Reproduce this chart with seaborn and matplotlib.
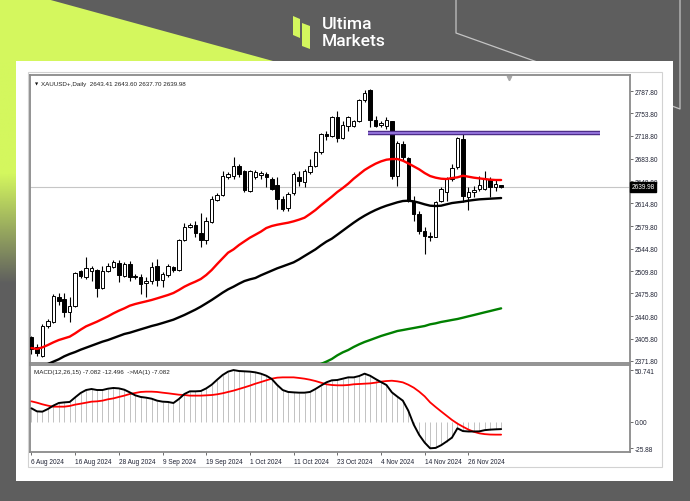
import numpy as np
import pandas as pd
import matplotlib
matplotlib.use("Agg")
import matplotlib.pyplot as plt
import matplotlib.transforms as mtransforms
from matplotlib.patches import Polygon, Rectangle
import seaborn as sns

# ---------------- data ----------------
dates = pd.bdate_range("2024-08-06", "2024-12-04")

opens = [2408.2, 2393.9, 2380.0, 2425.2, 2431.4, 2469.9, 2467.3, 2446.8, 2457.0, 2510.0,
         2500.7, 2511.0, 2512.5, 2484.3, 2511.0, 2517.1, 2522.3, 2503.3, 2521.2, 2503.3,
         2500.7, 2491.4, 2495.6, 2517.6, 2496.6, 2504.8, 2517.1, 2512.0, 2558.2, 2577.7,
         2581.8, 2569.5, 2558.2, 2585.4, 2619.9, 2628.1, 2655.8, 2657.3, 2672.8, 2665.1,
         2633.2, 2654.8, 2658.4, 2659.9, 2652.2, 2643.5, 2621.4, 2607.5, 2630.1, 2655.8,
         2647.1, 2662.5, 2672.8, 2693.3, 2721.5, 2719.0, 2747.2, 2715.4, 2734.4, 2734.4,
         2742.1, 2773.9, 2789.3, 2743.1, 2735.4, 2734.4, 2742.1, 2657.3, 2706.1, 2684.6,
         2618.8, 2598.3, 2572.6, 2564.9, 2563.4, 2617.8, 2631.7, 2652.2, 2670.2, 2713.8,
         2625.0, 2632.7, 2636.8, 2636.8, 2652.2, 2639.4, 2643.41]
highs = [2410.8, 2398.0, 2428.8, 2436.5, 2475.0, 2476.1, 2476.1, 2469.9, 2508.4, 2512.0,
         2531.5, 2518.7, 2513.5, 2518.7, 2522.3, 2527.4, 2527.4, 2523.8, 2526.4, 2505.8,
         2505.8, 2500.7, 2523.8, 2528.9, 2508.4, 2521.2, 2518.7, 2559.8, 2583.9, 2583.9,
         2588.0, 2599.3, 2593.1, 2626.5, 2630.1, 2664.0, 2662.5, 2685.6, 2675.3, 2666.1,
         2666.1, 2666.1, 2665.1, 2662.5, 2654.8, 2654.8, 2626.5, 2631.7, 2662.5, 2665.1,
         2667.6, 2683.0, 2694.8, 2722.6, 2726.7, 2749.8, 2757.5, 2742.1, 2749.8, 2743.1,
         2775.5, 2789.3, 2790.4, 2749.8, 2742.1, 2748.3, 2742.1, 2711.3, 2710.2, 2685.6,
         2626.5, 2603.4, 2577.7, 2570.0, 2618.8, 2639.4, 2654.8, 2675.3, 2716.4, 2721.5,
         2639.4, 2641.9, 2657.3, 2665.1, 2654.8, 2652.2, 2643.60]
lows = [2382.6, 2380.0, 2378.5, 2422.6, 2429.8, 2458.6, 2439.1, 2431.4, 2455.5, 2499.7,
        2498.1, 2495.6, 2469.9, 2482.7, 2508.4, 2515.1, 2493.0, 2500.7, 2495.6, 2498.1,
        2475.0, 2470.9, 2490.4, 2487.9, 2486.3, 2501.7, 2508.4, 2511.0, 2557.2, 2576.2,
        2562.3, 2548.0, 2552.1, 2583.9, 2617.8, 2626.5, 2652.2, 2652.2, 2654.8, 2631.7,
        2631.7, 2652.2, 2652.2, 2639.4, 2635.3, 2606.0, 2603.4, 2603.4, 2628.1, 2641.9,
        2639.4, 2659.9, 2670.2, 2690.7, 2712.3, 2716.4, 2708.7, 2713.8, 2726.7, 2731.8,
        2739.5, 2770.3, 2731.8, 2731.8, 2732.8, 2729.2, 2652.2, 2641.9, 2680.5, 2616.3,
        2588.0, 2567.5, 2536.7, 2557.2, 2562.3, 2616.3, 2618.8, 2649.6, 2667.6, 2616.3,
        2604.4, 2624.0, 2634.2, 2635.3, 2624.0, 2634.2, 2637.70]
closes = [2390.3, 2383.6, 2426.2, 2432.9, 2472.5, 2464.7, 2446.8, 2457.0, 2506.9, 2503.3,
          2515.1, 2515.1, 2484.3, 2511.0, 2518.7, 2524.8, 2504.8, 2521.2, 2500.7, 2500.7,
          2490.4, 2495.6, 2517.1, 2496.6, 2505.8, 2517.6, 2512.0, 2558.7, 2578.8, 2581.3,
          2568.5, 2558.2, 2588.0, 2621.4, 2627.6, 2656.8, 2659.9, 2672.8, 2659.9, 2635.3,
          2664.0, 2662.5, 2660.9, 2654.8, 2636.8, 2621.4, 2606.0, 2629.1, 2659.9, 2649.6,
          2665.1, 2672.8, 2693.3, 2721.5, 2719.0, 2748.3, 2715.4, 2735.4, 2747.2, 2741.1,
          2773.9, 2784.2, 2743.1, 2734.4, 2738.0, 2743.1, 2657.3, 2707.2, 2685.6, 2618.8,
          2598.3, 2572.6, 2564.9, 2562.3, 2616.3, 2636.8, 2652.2, 2669.2, 2715.4, 2626.5,
          2632.7, 2635.3, 2643.5, 2652.2, 2639.4, 2644.5, 2639.98]

# red moving average (every bar)
ma_fast = [2391.8, 2390.3, 2392.8, 2396.4, 2400.5, 2404.1, 2406.7, 2409.3, 2414.4, 2420.1,
           2425.2, 2428.8, 2432.4, 2436.5, 2440.6, 2445.2, 2449.3, 2452.9, 2457.0, 2459.6,
           2461.7, 2463.7, 2465.8, 2468.3, 2470.9, 2473.5, 2476.6, 2481.2, 2486.3, 2490.4,
           2494.0, 2498.1, 2504.3, 2512.0, 2521.2, 2530.0, 2538.7, 2543.8, 2550.5, 2556.2,
           2561.8, 2566.4, 2571.1, 2576.7, 2579.8, 2581.8, 2583.4, 2584.9, 2587.0, 2589.6,
           2592.6, 2598.3, 2604.4, 2611.6, 2618.3, 2625.0, 2632.2, 2638.3, 2645.0, 2652.7,
           2659.4, 2666.1, 2671.2, 2675.8, 2679.4, 2682.0, 2683.0, 2683.0, 2680.5, 2676.3,
           2671.7, 2667.1, 2661.4, 2656.8, 2654.3, 2652.7, 2652.2, 2653.7, 2654.8, 2657.3,
           2655.8, 2654.3, 2653.2, 2652.2, 2651.2, 2650.7, 2650.7]
# black moving average, starts at bar 3
ma_slow_start = 3
ma_slow = [2367.2, 2370.8, 2374.4, 2379.0, 2382.6, 2385.6, 2389.2, 2392.3, 2395.4, 2398.5,
           2401.6, 2404.1, 2407.2, 2410.3, 2413.4, 2415.4, 2418.0, 2420.6, 2423.1, 2425.7,
           2427.8, 2430.3, 2432.9, 2435.5, 2439.1, 2442.7, 2446.8, 2450.9, 2455.5, 2460.6,
           2465.8, 2471.4, 2477.1, 2482.2, 2486.3, 2490.9, 2495.0, 2497.6, 2499.7, 2503.8,
           2507.4, 2511.0, 2514.6, 2517.6, 2520.7, 2523.8, 2528.4, 2533.6, 2538.7, 2543.8,
           2550.0, 2555.7, 2560.3, 2566.4, 2572.6, 2578.8, 2584.9, 2590.6, 2595.7, 2600.3,
           2604.4, 2608.0, 2611.1, 2613.7, 2616.3, 2618.3, 2618.8, 2617.8, 2615.7, 2613.2,
           2611.1, 2610.6, 2611.1, 2613.2, 2615.2, 2616.3, 2617.3, 2618.8, 2619.9, 2620.9,
           2621.4, 2621.9, 2622.4, 2622.9]
# green moving average, starts at bar 53
ma_long_start = 53
ma_long = [2367.2, 2370.8, 2374.9, 2380.5, 2385.1, 2388.7, 2393.4, 2397.5, 2401.1, 2404.1,
           2407.2, 2410.3, 2412.9, 2415.4, 2418.0, 2419.5, 2421.1, 2422.6, 2424.2, 2425.7,
           2428.3, 2429.8, 2431.9, 2433.4, 2435.0, 2436.5, 2438.5, 2440.6, 2442.6, 2444.7,
           2446.8, 2448.8, 2450.9, 2452.9]

macd_main = [13.3, 10.3, 10.0, 12.6, 15.9, 18.5, 19.1, 19.5, 24.0, 28.3,
             31.2, 32.2, 31.2, 31.2, 32.5, 33.2, 32.8, 31.5, 28.9, 26.0,
             24.4, 23.7, 22.7, 20.8, 19.8, 19.5, 18.5, 22.4, 27.3, 29.9,
             29.9, 30.2, 32.8, 36.4, 41.3, 45.9, 49.2, 50.741, 49.8, 49.5,
             49.2, 48.5, 47.2, 45.2, 42.0, 36.1, 31.2, 29.3, 28.9, 28.6,
             28.6, 29.3, 32.2, 35.5, 38.7, 40.7, 41.0, 42.3, 43.6, 43.6,
             44.9, 47.2, 45.2, 42.0, 39.0, 36.1, 28.9, 24.7, 20.8, 11.0,
             -2.7, -12.8, -20.3, -25.88, -25.5, -22.9, -19.3, -15.4, -6.3, -9.0,
             -9.4, -9.4, -9.3, -8.1, -7.6, -7.3, -7.082]
macd_signal = [20.1, 18.8, 17.2, 15.9, 14.9, 14.9, 14.9, 15.6, 16.9, 17.8,
               18.8, 19.8, 20.1, 20.8, 22.1, 23.0, 24.4, 25.7, 27.3, 28.3,
               29.3, 29.6, 29.6, 29.3, 28.6, 28.0, 27.3, 26.6, 26.3, 25.7,
               25.7, 25.7, 26.0, 26.3, 27.0, 28.0, 29.3, 30.6, 32.2, 33.8,
               35.5, 37.4, 39.0, 40.7, 42.3, 43.3, 43.6, 43.6, 43.6, 43.0,
               42.3, 41.3, 40.0, 38.4, 36.8, 36.1, 35.8, 35.8, 36.1, 36.8,
               37.1, 37.4, 37.7, 38.4, 39.4, 40.0, 40.3, 39.7, 38.7, 36.4,
               33.5, 29.6, 25.0, 19.1, 14.6, 10.3, 6.1, 1.9, -1.7, -4.7,
               -7.5, -9.7, -11.2, -12.0, -12.4, -12.5, -12.496]

resistance_level = 2723.0
resistance_span = (61.7, 104.1)
last_price = 2639.98

price_ticks = [2787.80, 2753.80, 2718.80, 2683.80, 2648.80, 2614.80, 2579.80,
               2544.80, 2509.80, 2475.80, 2440.80, 2405.80, 2371.80]
macd_ticks = [50.741, 0.0, -25.88]
macd_tick_labels = ["50.741", "0.00", "-25.88"]
date_step = 8

symbol_title = "XAUUSD+,Daily  2643.41 2643.60 2637.70 2639.98"
macd_title = "MACD(12,26,15) -7.082 -12.496  ->MA(1) -7.082"
brand_lines = ["Ultima", "Markets"]

# ---------------- style ----------------
sns.set_theme(style="white")
plt.rcParams["font.family"] = ["Liberation Sans", "DejaVu Sans"]

W, H = 690, 502
LIME = "#d4f75e"
DARK = "#5e5e5e"
TXT = 4.7
fig = plt.figure(figsize=(W / 100, H / 100), dpi=100)
fig.patch.set_facecolor(DARK)


def frac(l, t, r, b):
    return [l / W, 1 - b / H, (r - l) / W, (b - t) / H]


# ---------------- branded backdrop ----------------
bg = fig.add_axes([0, 0, 1, 1], zorder=0)
bg.set_xlim(0, W)
bg.set_ylim(H, 0)
bg.axis("off")
bg.add_patch(Polygon([(0, 0), (47, 0), (273, 62), (0, 62)], closed=True,
                     facecolor=LIME, edgecolor="none"))
ys = np.linspace(62, 290, 229)
alpha = np.clip((285 - ys) / (285 - 175), 0, 1)
strip = np.zeros((len(ys), 1, 4))
strip[..., :3] = matplotlib.colors.to_rgb(LIME)
strip[:, 0, 3] = alpha
bg.imshow(strip, extent=(0, 16, 290, 62), aspect="auto", origin="upper",
          interpolation="bilinear", zorder=1)
bg.plot([456, 456, 540], [0, 34, 64], color="#c4c4c4", lw=0.9, zorder=1)
bg.plot([680, 680, 672], [0, 110, 107], color="#c4c4c4", lw=0.9, zorder=1)
bg.set_xlim(0, W)
bg.set_ylim(H, 0)

# logo mark and wordmark
bg.add_patch(Polygon([(293, 17), (300, 20), (300, 39), (293, 36)], closed=True,
                     facecolor=LIME, edgecolor="none"))
bg.add_patch(Polygon([(302, 24), (310, 27), (310, 50), (302, 47)], closed=True,
                     facecolor=LIME, edgecolor="none"))
bg.text(322, 24.5, brand_lines[0], color="white", fontsize=12.5, family="Roboto",
        fontweight="medium", ha="left", va="center")
bg.text(322, 41.5, brand_lines[1], color="white", fontsize=12.5, family="Roboto",
        fontweight="medium", ha="left", va="center")

# white card and terminal frame
bg.add_patch(Rectangle((16, 62), 657, 420, facecolor="white", edgecolor="none", zorder=2))
bg.add_patch(Rectangle((27.5, 72.5), 634.5, 395.5, fill=False, edgecolor="#d2d2d2",
                       lw=0.8, zorder=3))

# ---------------- price window ----------------
ax = fig.add_axes(frac(30, 76, 630, 364), zorder=2)
ax2 = fig.add_axes(frac(30, 366, 630, 453), zorder=2)

n = len(dates)
x = np.arange(n)
o = np.array(opens)
h = np.array(highs)
lo = np.array(lows)
c = np.array(closes)
bull = c >= o
bottoms = np.minimum(o, c)
heights = np.maximum(np.abs(c - o), 0.9)

ax.axhline(last_price, color="#c6c6c6", lw=0.8, zorder=1)
ax.vlines(x, lo, h, color="black", lw=0.8, zorder=2)
ax.bar(x[bull], heights[bull], bottom=bottoms[bull], width=0.64, color="white",
       edgecolor="black", linewidth=0.7, zorder=3)
ax.bar(x[~bull], heights[~bull], bottom=bottoms[~bull], width=0.64, color="black",
       edgecolor="black", linewidth=0.7, zorder=3)

sns.lineplot(x=x, y=ma_fast, ax=ax, color="#ff0000", lw=1.7, zorder=4)
sns.lineplot(x=x[ma_slow_start:], y=ma_slow, ax=ax, color="black", lw=1.7, zorder=4)
sns.lineplot(x=x[ma_long_start:], y=ma_long, ax=ax, color="#008000", lw=1.7, zorder=4)

ax.hlines(resistance_level, *resistance_span, color="#4a2a86", lw=3.2, zorder=5)
ax.hlines(resistance_level, *resistance_span, color="#9070d8", lw=1.5, zorder=6)

xlim = (-0.27, 109.6)
ax.set_xlim(*xlim)
ax.set_ylim(2368.7, 2812.5)
ax.set_xticks([])
ax.set_xlabel("")
ax.set_ylabel("")
ax.yaxis.tick_right()
ax.set_yticks(price_ticks)
ax.set_yticklabels([f"{v:.2f}" for v in price_ticks])
ax.tick_params(axis="y", which="major", right=True, length=2.5, width=0.6,
               color="#555555", labelsize=TXT, pad=1.2, labelcolor="#1f2233")

blend = mtransforms.blended_transform_factory(ax.transAxes, ax.transData)
ax.text(1.003, last_price, f"{last_price:.2f}", transform=blend, ha="left", va="center",
        color="white", fontsize=TXT, zorder=10, clip_on=False,
        bbox=dict(boxstyle="square,pad=0.2", fc="black", ec="black"))
ax.text(0.0075, 0.976, "\u25bc", transform=ax.transAxes, fontsize=3.0, va="top",
        ha="left", color="#111111", family="DejaVu Sans")
ax.text(0.019, 0.979, symbol_title, transform=ax.transAxes, fontsize=4.5, va="top",
        ha="left", color="#222222")
ax.plot([0.798], [0.988], marker="v", ms=3.2, color="#a8a8a8", transform=ax.transAxes,
        clip_on=False)

# ---------------- MACD window ----------------
ax2.vlines(x, 0, macd_main, color="#b8b8b8", lw=0.6, zorder=2)
sns.lineplot(x=x, y=macd_signal, ax=ax2, color="#ff0000", lw=1.3, zorder=3)
sns.lineplot(x=x, y=macd_main, ax=ax2, color="black", lw=1.4, zorder=4)
ax2.set_xlim(*xlim)
ax2.set_ylim(-29.5, 55.7)
ax2.set_xlabel("")
ax2.set_ylabel("")
ax2.yaxis.tick_right()
ax2.set_yticks(macd_ticks)
ax2.set_yticklabels(macd_tick_labels)
ax2.tick_params(axis="y", which="major", right=True, length=2.5, width=0.6,
                color="#555555", labelsize=TXT, pad=1.2, labelcolor="#1f2233")
tick_pos = x[::date_step]
tick_lab = [f"{d.day} {d:%b %Y}" for d in dates[::date_step]]
ax2.set_xticks(tick_pos)
ax2.set_xticklabels(tick_lab, ha="left")
ax2.tick_params(axis="x", which="major", bottom=True, length=2.5, width=0.6,
                color="#555555", labelsize=TXT, pad=1.5, labelcolor="#1f2233")
ax2.text(0.006, 0.955, macd_title, transform=ax2.transAxes, fontsize=4.5, va="top",
         ha="left", color="#222222")

for a in (ax, ax2):
    a.set_facecolor("white")
    for s in a.spines.values():
        s.set_color("#8a8a8a")
        s.set_linewidth(1.3)
        s.set_visible(True)
    a.grid(False)

fig.savefig("out.png", dpi=100, facecolor=fig.get_facecolor())
